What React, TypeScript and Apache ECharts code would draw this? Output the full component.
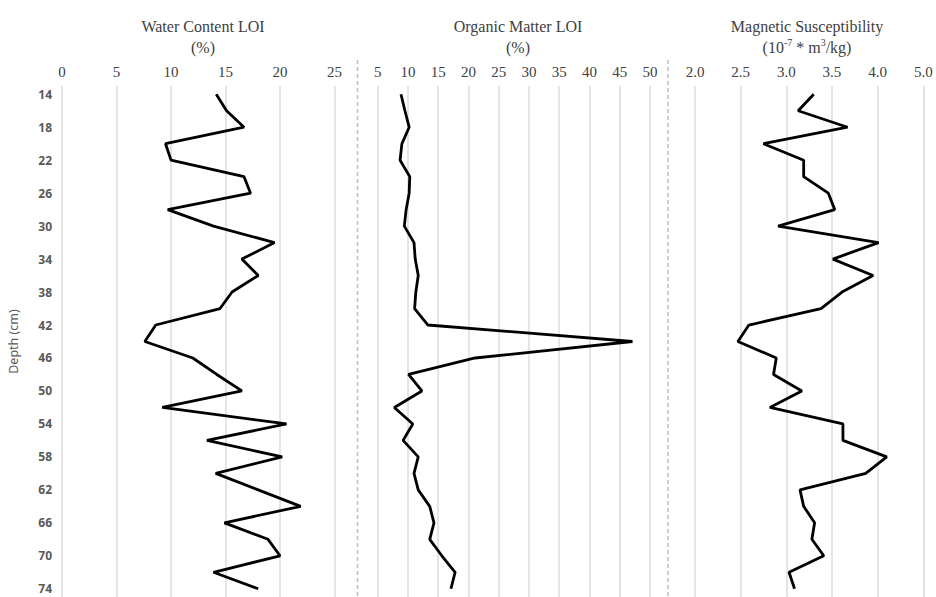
import React, { useEffect, useRef } from "react";
import * as echarts from "echarts";

const depths = [14, 16, 18, 20, 22, 24, 26, 28, 30, 32, 34, 36, 38, 40, 42, 44, 46, 48, 50, 52, 54, 56, 58, 60, 62, 64, 66, 68, 70, 72, 74];

const waterContent = [14.15, 15.1, 16.7, 9.5, 10.0, 16.7, 17.3, 9.7, 13.9, 19.5, 16.5, 18.0, 15.6, 14.5, 8.6, 7.6, 12.0, 14.2, 16.5, 9.2, 20.6, 13.3, 20.2, 14.1, 18.0, 21.9, 14.9, 18.9, 20.0, 13.9, 18.0];

const organicMatter = [8.85, 9.5, 10.2, 9.0, 8.7, 10.3, 10.2, 9.7, 9.4, 11.0, 11.2, 11.7, 11.3, 11.1, 13.3, 47.1, 21.1, 10.1, 12.3, 7.75, 10.8, 9.2, 11.7, 11.0, 11.7, 13.6, 14.3, 13.6, 15.6, 17.8, 17.1];

const magneticSusc = [3.3, 3.13, 3.67, 2.75, 3.19, 3.19, 3.46, 3.53, 2.91, 4.01, 3.51, 3.95, 3.61, 3.38, 2.59, 2.47, 2.89, 2.86, 3.17, 2.82, 3.62, 3.62, 4.1, 3.87, 3.15, 3.19, 3.31, 3.28, 3.41, 3.03, 3.09];

const magTickLabels = ["2.0", "2.5", "3.0", "3.5", "4.0", "5.0"];

const panelTitles = ["Water Content LOI\n(%)", "Organic Matter LOI\n(%)", "Magnetic Susceptibility\n(10{sup|-7} * m{sup|3}/kg)"];

export default function App() {
  const ref = useRef<HTMLDivElement>(null);

  useEffect(() => {
    if (!ref.current) return;
    const chart = echarts.init(ref.current, null, { renderer: "svg" });
    const serif = "'Liberation Serif', 'Times New Roman', serif";
    const sans = "'Noto Sans', 'Open Sans', sans-serif";
    const textColor = "#404040";
    const gridTop = 86;
    const gridHeight = 514;
    const grids = [
      { left: 62, top: gridTop, width: 272.5, height: gridHeight },
      { left: 377.7, top: gridTop, width: 272.3, height: gridHeight },
      { left: 695, top: gridTop, width: 228.3, height: gridHeight },
    ];
    const cats = depths.map((d) => String(d));
    const xCommon = (i: number) => ({
      type: "value" as const,
      gridIndex: i,
      position: "top" as const,
      axisLine: { show: false },
      axisTick: { show: false },
      splitLine: { show: true, lineStyle: { color: "#dcdcdc", width: 1.5 } },
      axisLabel: { color: textColor, fontFamily: serif, fontSize: 15, margin: 7 },
    });
    const xAxes = [
      { ...xCommon(0), min: 0, max: 25, interval: 5 },
      { ...xCommon(1), min: 5, max: 50, interval: 5 },
      {
        ...xCommon(2),
        min: 2,
        max: 4.5,
        interval: 0.5,
        axisLabel: {
          ...xCommon(2).axisLabel,
          formatter: (v: number) => magTickLabels[Math.round((v - 2) / 0.5)] ?? "",
        },
      },
    ];
    const yAxes = [0, 1, 2].map((i) => ({
      type: "category" as const,
      gridIndex: i,
      data: cats,
      inverse: true,
      boundaryGap: true,
      axisLine: { show: false },
      axisTick: { show: false },
      splitLine: { show: false },
      axisLabel: i === 0
        ? { show: true, interval: 1, color: "#595959", fontFamily: sans, fontSize: 12, fontWeight: "bold" as const, margin: 10 }
        : { show: false },
      name: i === 0 ? "Depth (cm)" : "",
      nameLocation: "middle" as const,
      nameRotate: 90,
      nameGap: 42,
      nameTextStyle: { color: "#595959", fontFamily: sans, fontSize: 12.5 },
    }));
    const values = [waterContent, organicMatter, magneticSusc];
    const series = values.map((arr, i) => ({
      type: "line" as const,
      xAxisIndex: i,
      yAxisIndex: i,
      data: arr.map((v, k) => [v, cats[k]]),
      symbol: "none",
      lineStyle: { color: "#000000", width: 2.8 },
      itemStyle: { color: "#000000" },
    }));
    const centers = [198, 513, 802];
    const titles = panelTitles.map((t, i) => ({
      text: t,
      left: centers[i],
      top: 11,
      textAlign: "center" as const,
      textStyle: {
        fontFamily: serif,
        fontSize: 16,
        fontWeight: "normal" as const,
        color: textColor,
        lineHeight: 21,
        rich: {
          sup: { fontFamily: serif, fontSize: 10, color: textColor, verticalAlign: "top" as const, lineHeight: 21 },
        },
      },
    }));
    const sepStyle = { stroke: "#bfbfbf", lineWidth: 1.5, lineDash: [4, 3] };
    chart.setOption({
      animation: false,
      backgroundColor: "#ffffff",
      title: titles,
      grid: grids,
      xAxis: xAxes,
      yAxis: yAxes,
      series,
      graphic: [
        { type: "line", shape: { x1: 357.5, y1: 60, x2: 357.5, y2: 597 }, style: sepStyle, silent: true },
        { type: "line", shape: { x1: 668, y1: 60, x2: 668, y2: 597 }, style: sepStyle, silent: true },
      ],
    });
    return () => chart.dispose();
  }, []);

  return (
    <div
      ref={ref}
      style={{ position: "fixed", left: 0, top: 0, width: 936, height: 597, background: "#fff" }}
    />
  );
}
